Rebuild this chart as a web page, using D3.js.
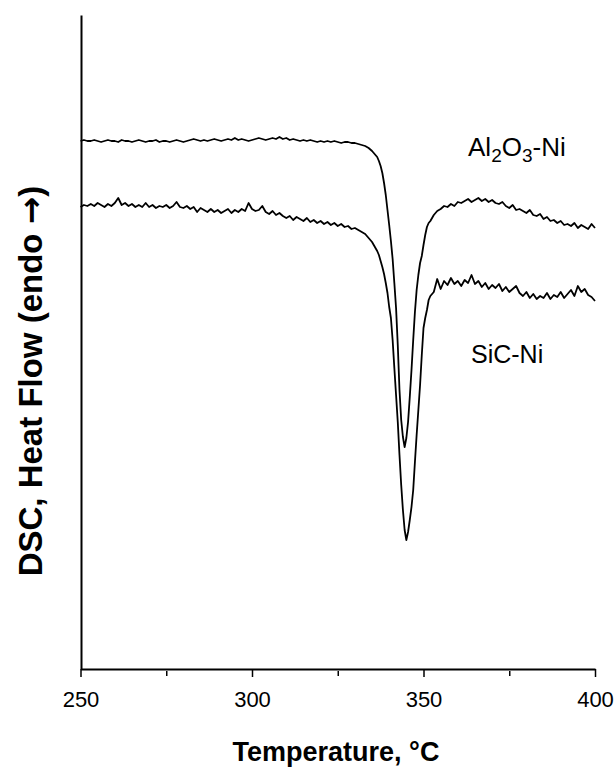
<!DOCTYPE html>
<html>
<head>
<meta charset="utf-8">
<script src="https://cdn.jsdelivr.net/npm/d3@7"></script>
<style>
  body { margin: 0; background: #fff; }
  svg { display: block; font-family: "Liberation Sans", Arial, sans-serif; }
  .axis path, .axis line { stroke: #000; }
</style>
</head>
<body>
<svg id="dsc" width="614" height="767"></svg>
<script>
// temperature grid, degC (finer steps through the melting dip)
var temps = [
  250,251,252,253,254,255,256,257,258,259,
  260,261,262,263,264,265,266,267,268,269,
  270,271,272,273,274,275,276,277,278,279,
  280,281,282,283,284,285,286,287,288,289,
  290,291,292,293,294,295,296,297,298,299,
  300,301,302,303,304,305,306,307,308,309,
  310,311,312,313,314,315,316,317,318,319,
  320,321,322,323,324,325,326,327,328,329,
  330,331,332,333,334,
  335,335.5,336,336.5,337,337.5,338,338.5,339,339.5,
  340,340.5,341,341.5,342,342.5,343,343.5,344,344.5,
  345,345.5,346,346.5,347,347.5,348,348.5,349,349.5,
  350,350.5,351,351.5,352,
  353,354,355,356,357,358,359,360,361,362,
  363,364,365,366,367,368,369,370,371,372,
  373,374,375,376,377,378,379,380,381,382,
  383,384,385,386,387,388,389,390,391,392,
  393,394,395,396,397,398,399,400
];

// heat flow, arbitrary units (endo up)
var al2o3Ni = [
  52.8,52.9,52.8,52.8,52.9,52.8,52.7,52.8,52.9,52.8,
  52.8,52.7,52.9,52.8,52.8,52.7,52.8,52.9,52.8,52.7,
  52.8,52.8,52.9,52.7,52.8,52.8,52.7,52.8,52.9,52.8,
  52.7,52.8,52.9,53.0,52.9,52.8,52.9,52.8,52.9,53.0,
  52.9,52.8,52.9,53.0,52.9,53.1,52.9,53.0,52.9,52.8,
  52.9,53.0,53.1,53.0,52.9,53.0,53.1,53.0,53.2,53.0,
  53.1,52.9,53.0,52.9,52.8,52.9,52.8,52.9,52.8,52.7,
  52.8,52.7,52.8,52.7,52.8,52.7,52.6,52.7,52.7,52.6,
  52.6,52.5,52.4,52.3,52.1,
  51.8,51.6,51.4,51.2,50.8,50.3,49.6,48.6,47.4,45.9,
  44.4,42.8,41.0,38.6,36.1,32.4,27.9,24.9,23.2,22.2,
  23.1,24.7,27.2,29.9,32.9,35.7,37.9,39.4,40.6,41.3,
  42.4,43.4,44.2,44.6,44.8,
  45.4,45.8,46.0,46.3,46.2,46.5,46.3,46.7,46.6,46.8,
  47.0,46.7,46.9,47.1,46.8,47.0,46.7,46.9,46.6,46.5,
  46.7,46.3,46.1,46.4,45.9,46.0,45.8,45.6,45.9,45.4,
  45.3,45.5,45.0,45.2,44.8,44.9,44.6,44.8,44.4,44.5,
  44.3,44.6,44.1,44.4,44.2,44.0,44.5,44.1
];

var sicNi = [
  46.2,46.4,46.3,46.5,46.3,46.6,46.4,46.2,46.5,46.3,
  46.6,47.1,46.4,46.6,46.3,46.5,46.2,46.4,46.2,46.6,
  46.2,46.4,46.1,46.3,46.2,46.4,46.1,46.3,46.7,46.2,
  46.1,46.3,46.0,46.2,45.7,46.1,45.9,45.7,46.0,45.7,
  45.9,45.6,45.8,46.0,45.6,45.9,45.7,46.0,45.8,46.6,
  46.0,45.8,45.9,46.3,45.7,45.5,45.8,45.4,45.6,45.3,
  45.1,45.3,44.9,45.2,45.0,44.8,45.1,44.7,44.9,44.6,
  44.8,44.5,44.7,44.4,44.6,44.3,44.5,44.2,44.3,44.0,
  44.1,43.9,43.7,43.5,43.1,
  42.7,42.4,42.1,41.8,41.4,40.8,40.2,39.5,38.6,37.6,
  36.2,35.1,32.9,30.1,27.4,24.7,21.4,18.4,15.9,13.9,
  12.9,13.7,14.9,16.2,17.9,20.7,23.4,25.9,28.4,31.4,
  34.1,35.1,35.9,36.9,37.3,
  37.7,39.0,38.0,38.8,38.4,39.1,38.5,38.8,38.3,38.9,
  38.6,39.4,38.5,38.8,38.2,38.6,38.0,38.4,38.1,38.5,
  37.8,38.2,37.7,38.0,38.3,37.6,37.3,37.7,37.1,37.5,
  37.0,37.3,37.1,37.6,37.0,37.4,37.2,37.7,37.1,37.5,
  37.9,37.3,38.3,37.7,38.0,37.4,37.2,36.8
];

var majorTicks = [250, 300, 350, 400];
var minorTicks = [275, 325, 375];

var svg = d3.select("#dsc");

var x = d3.scaleLinear().domain([250, 400]).range([80.5, 595]);
var y = d3.scaleLinear().domain([0, 65.4]).range([669, 15]);

var line = d3.line()
    .x(function(d) { return x(d[0]); })
    .y(function(d) { return y(d[1]); });

function pairs(vals) {
  return temps.map(function(t, i) { return [t, vals[i]]; });
}

// curves
[al2o3Ni, sicNi].forEach(function(s) {
  svg.append("path")
      .datum(pairs(s))
      .attr("fill", "none")
      .attr("stroke", "#000")
      .attr("stroke-width", 1.8)
      .attr("stroke-linejoin", "round")
      .attr("d", line);
});

// x axis, major ticks with labels
svg.append("g")
    .attr("class", "axis")
    .attr("transform", "translate(0,669)")
    .call(d3.axisBottom(x).tickValues(majorTicks).tickSize(8).tickSizeOuter(0).tickPadding(14))
    .call(function(g) { g.select(".domain").attr("stroke-width", 2); })
    .call(function(g) {
      g.selectAll(".tick line").attr("stroke-width", 1.5);
      g.selectAll(".tick text")
          .attr("font-family", "Liberation Sans, Arial, sans-serif")
          .attr("font-size", "22px")
          .attr("fill", "#000");
    });

// minor ticks
svg.append("g")
    .attr("class", "axis")
    .attr("transform", "translate(0,669)")
    .call(d3.axisBottom(x).tickValues(minorTicks).tickSize(7).tickSizeOuter(0).tickFormat(""))
    .call(function(g) {
      g.select(".domain").remove();
      g.selectAll(".tick line").attr("stroke-width", 1.5).attr("y1", 2);
    });

// y axis: plain line, no ticks
svg.append("g")
    .attr("class", "axis")
    .attr("transform", "translate(81,0)")
    .call(d3.axisLeft(y).tickValues([]).tickSizeOuter(0))
    .select(".domain").attr("stroke-width", 2);

// axis titles
svg.append("text")
    .attr("x", 336)
    .attr("y", 761)
    .attr("text-anchor", "middle")
    .attr("font-size", "27px")
    .attr("font-weight", "bold")
    .text("Temperature, \u00B0C");

var yt = svg.append("text")
    .attr("transform", "translate(42,381) rotate(-90)")
    .attr("text-anchor", "middle")
    .attr("font-size", "33px")
    .attr("font-weight", "bold");
yt.append("tspan").text("DSC, Heat Flow (endo ");
yt.append("tspan").attr("font-family", "DejaVu Sans").text("\u2192");
yt.append("tspan").text(")");

// series labels
var lab = svg.append("text")
    .attr("x", 468)
    .attr("y", 156)
    .attr("font-size", "26px");
lab.append("tspan").text("Al");
lab.append("tspan").attr("font-size", "19px").attr("dy", 6).text("2");
lab.append("tspan").attr("dy", -6).text("O");
lab.append("tspan").attr("font-size", "19px").attr("dy", 6).text("3");
lab.append("tspan").attr("dy", -6).text("-Ni");

svg.append("text")
    .attr("x", 471)
    .attr("y", 363)
    .attr("font-size", "25px")
    .text("SiC-Ni");
</script>
</body>
</html>
